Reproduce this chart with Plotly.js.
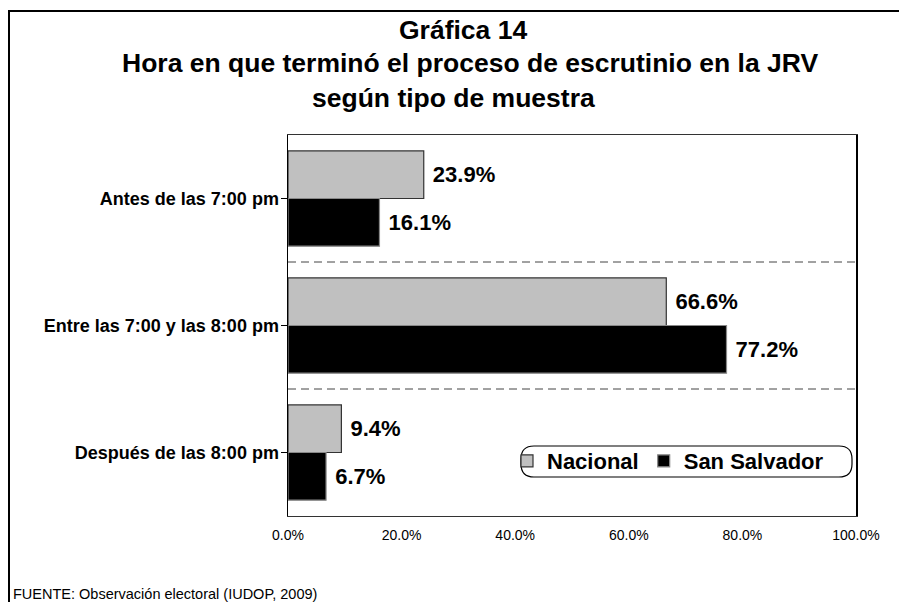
<!DOCTYPE html>
<html>
<head>
<meta charset="utf-8">
<script src="https://cdn.plot.ly/plotly-3.0.1.min.js"></script>
<style>html,body{margin:0;padding:0;background:#fff;}#chart{width:899px;height:602px;}</style>
</head>
<body>
<div id="chart"></div>
<script>
const categories = ["Antes de las 7:00 pm", "Entre las 7:00 y las 8:00 pm", "Después de las 8:00 pm"];
const nacional = [23.9, 66.6, 9.4];
const sanSalvador = [16.1, 77.2, 6.7];
const seriesNames = ["Nacional", "San Salvador"];
const xTickVals = [0, 20, 40, 60, 80, 100];
const xTickText = ["0.0%", "20.0%", "40.0%", "60.0%", "80.0%", "100.0%"];
const titleLines = ["Gráfica 14", "Hora en que terminó el proceso de escrutinio en la JRV", "según tipo de muestra"];
const sourceNote = "FUENTE: Observación electoral (IUDOP, 2009)";

const FONT = "Arial, 'Liberation Sans', sans-serif";

const mkTrace = (vals, name, color, lineColor) => ({
  type: 'bar', orientation: 'h', name: name,
  y: categories, x: vals,
  text: vals.map(v => '\u00a0' + v.toFixed(1) + '%'),
  textposition: 'outside', cliponaxis: false,
  textfont: {family: FONT, size: 22, color: '#000', weight: 'bold'},
  marker: {color: color, line: {color: lineColor, width: 1.2}},
  hoverinfo: 'skip'
});

const traces = [
  mkTrace(nacional, seriesNames[0], '#C0C0C0', '#333333'),
  mkTrace(sanSalvador, seriesNames[1], '#000000', '#888888')
];

const L = 288, R = 856, T = 135, B = 516, W = 899, H = 602;
const px = x => (x - L) / (R - L);
const py = y => (B - y) / (B - T);

const shapes = [];
// category separators
for (let i = 0; i < categories.length - 1; i++) {
  shapes.push({type: 'line', xref: 'paper', yref: 'y', x0: 0, x1: 1, y0: i + 0.5, y1: i + 0.5,
    line: {color: '#444', width: 1, dash: '8px,5px'}});
}
// outer frame
shapes.push({type: 'rect', xref: 'paper', yref: 'paper', x0: px(9), x1: px(960), y0: py(11), y1: py(700),
  line: {color: '#000', width: 2}, fillcolor: 'rgba(0,0,0,0)'});
// rounded legend box
(function(){
  const x0 = px(521), x1 = px(852), y0 = py(477), y1 = py(446);
  const rx = 13 / (R - L), ry = 13 / (B - T);
  const d = `M ${x0+rx},${y1} L ${x1-rx},${y1} Q ${x1},${y1} ${x1},${y1-ry} L ${x1},${y0+ry} Q ${x1},${y0} ${x1-rx},${y0} L ${x0+rx},${y0} Q ${x0},${y0} ${x0},${y0+ry} L ${x0},${y1-ry} Q ${x0},${y1} ${x0+rx},${y1} Z`;
  shapes.push({type: 'path', xref: 'paper', yref: 'paper', path: d, line: {color: '#000', width: 1.2}, fillcolor: 'rgba(0,0,0,0)'});
})();

const titleX = [463, 470, 453];
const titleY = [30, 63, 98];
const annotations = titleLines.map((t, i) => ({
  text: t, xref: 'paper', yref: 'paper', x: px(titleX[i]), y: py(titleY[i]),
  xanchor: 'center', yanchor: 'middle', showarrow: false,
  font: {family: FONT, size: 26.5, color: '#000', weight: 'bold'}
}));
annotations.push({text: sourceNote, xref: 'paper', yref: 'paper', x: px(11), y: py(594),
  xanchor: 'left', yanchor: 'middle', showarrow: false,
  font: {family: FONT, size: 14.5, color: '#000'}});

const layout = {
  width: W, height: H,
  margin: {l: L, r: W - R, t: T, b: H - B, pad: 0},
  paper_bgcolor: '#fff', plot_bgcolor: '#fff',
  barmode: 'group', bargap: 0.25, bargroupgap: 0,
  showlegend: true,
  legend: {orientation: 'h', x: px(507), y: py(440), xanchor: 'left', yanchor: 'top',
    bgcolor: 'rgba(0,0,0,0)', font: {family: FONT, size: 22, color: '#000', weight: 'bold'},
    itemwidth: 30, traceorder: 'normal'},
  xaxis: {range: [0, 100], tickvals: xTickVals, ticktext: xTickText, showgrid: false, zeroline: false,
    showline: true, mirror: true, linecolor: '#333', linewidth: 1, ticks: '', ticklabelstandoff: 6,
    tickfont: {family: FONT, size: 14, color: '#000'}, fixedrange: true},
  yaxis: {autorange: 'reversed', showgrid: false, zeroline: false, showline: true, mirror: true,
    linecolor: '#000', linewidth: 1.5, ticks: 'outside', ticklen: 6, tickcolor: '#000', tickwidth: 1.2,
    ticklabelstandoff: -2,
    tickfont: {family: FONT, size: 18, color: '#000', weight: 'bold'}, fixedrange: true},
  shapes: shapes,
  annotations: annotations,
  font: {family: FONT}
};

Plotly.newPlot('chart', traces, layout, {displayModeBar: false, staticPlot: true});
</script>
</body>
</html>
